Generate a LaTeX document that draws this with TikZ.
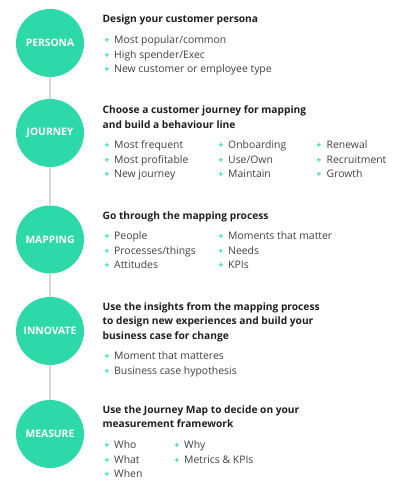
\documentclass[tikz,border=0pt]{standalone}
\usepackage{fontspec}
\setmainfont{Open Sans}
\definecolor{stagegreen}{HTML}{2DD9A9}
\definecolor{linegrey}{HTML}{D6D6D6}
\definecolor{txt}{HTML}{1E1E1E}
\begin{document}
\begin{tikzpicture}[x=1pt,y=-1pt,
  stage/.style={circle,fill=stagegreen,minimum size=68pt,inner sep=0pt,text=white,font=\fontsize{10.3}{12}\selectfont\bfseries},
  head/.style={anchor=base west,inner sep=0pt,text=txt,font=\fontsize{10.2}{12}\selectfont\bfseries},
  item/.style={anchor=base west,inner sep=0pt,text=txt!85!white,font=\fontsize{10.4}{12}\selectfont},
  plus/.style={anchor=base,inner sep=0pt,text=stagegreen,font=\fontsize{9}{12}\selectfont\bfseries},
  conn/.style={draw=linegrey,line width=1.2pt}]
\useasboundingbox (0,0) rectangle (409,498);
% circles
\node[stage] (persona) at (50,43) {PERSONA};
\node[stage] (journey) at (50,133) {JOURNEY};
\node[stage] (mapping) at (50,239.5) {MAPPING};
\node[stage] (innovate) at (50,331) {INNOVATE};
\node[stage] (measure) at (50,434) {MEASURE};
\draw[conn] (persona) -- (journey);
\draw[conn] (journey) -- (mapping);
\draw[conn] (mapping) -- (innovate);
\draw[conn] (innovate) -- (measure);
% persona
\node[head] (h1) at (102.5,22.7) {Design your customer persona};
\node[plus] (p11) at (107,43.8) {+};
\node[item] (i11) at (114,43.8) {Most popular/common};
\node[plus] (p12) at (107,58.2) {+};
\node[item] (i12) at (114,58.2) {High spender/Exec};
\node[plus] (p13) at (107,72.6) {+};
\node[item] (i13) at (114,72.6) {New customer or employee type};
% journey
\node[head] (h2a) at (102.5,113.8) {Choose a customer journey for mapping};
\node[head] (h2b) at (102.5,128) {and build a behaviour line};
\foreach \a/\b/\c/\y [count=\i] in {Most frequent/Onboarding/Renewal/148.8, Most profitable/Use\slash Own/Recruitment/163.3, New journey/Maintain/Growth/177.8}{
  \node[plus] (p2a\i) at (107,\y) {+};
  \node[item] (i2a\i) at (114,\y) {\a};
  \node[plus] (p2b\i) at (221,\y) {+};
  \node[item] (i2b\i) at (228,\y) {\b};
  \node[plus] (p2c\i) at (319,\y) {+};
  \node[item] (i2c\i) at (326.5,\y) {\c};
}
% mapping
\node[head] (h3) at (102.5,219.5) {Go through the mapping process};
\foreach \a/\b/\y [count=\i] in {People/Moments that matter/239.5, Processes\slash things/Needs/254.2, Attitudes/KPIs/268.8}{
  \node[plus] (p3a\i) at (107,\y) {+};
  \node[item] (i3a\i) at (114,\y) {\a};
  \node[plus] (p3b\i) at (221,\y) {+};
  \node[item] (i3b\i) at (228,\y) {\b};
}
% innovate
\node[head] (h4a) at (102.5,310.5) {Use the insights from the mapping process};
\node[head] (h4b) at (102.5,324.8) {to design new experiences and build your};
\node[head] (h4c) at (102.5,339) {business case for change};
\node[plus] (p41) at (107,359.8) {+};
\node[item] (i41) at (114,359.8) {Moment that matteres};
\node[plus] (p42) at (107,374.5) {+};
\node[item] (i42) at (114,374.5) {Business case hypothesis};
% measure
\node[head] (h5a) at (102.5,413) {Use the Journey Map to decide on your};
\node[head] (h5b) at (102.5,427.2) {measurement framework};
\node[plus] (p51) at (107,448.8) {+};
\node[item] (i51) at (114,448.8) {Who};
\node[plus] (p52) at (107,463.3) {+};
\node[item] (i52) at (114,463.3) {What};
\node[plus] (p53) at (107,477.8) {+};
\node[item] (i53) at (114,477.8) {When};
\node[plus] (p54) at (177,448.8) {+};
\node[item] (i54) at (184,448.8) {Why};
\node[plus] (p55) at (177,463.3) {+};
\node[item] (i55) at (184,463.3) {Metrics \& KPIs};
\end{tikzpicture}
\end{document}
